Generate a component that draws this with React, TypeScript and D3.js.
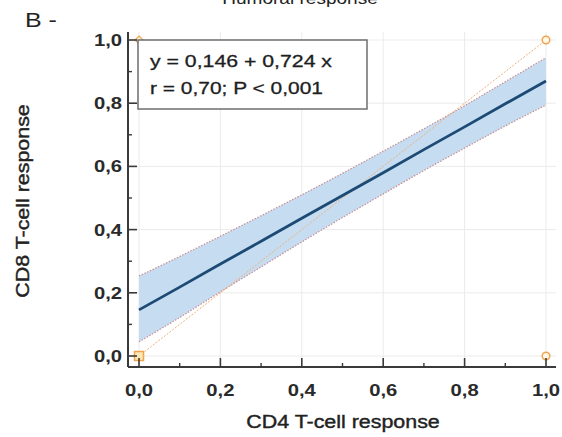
import React from "react";
import * as d3 from "d3";

const W = 562;
const H = 437;

// regression: y = 0.146 + 0.724 x
const bandX = [0, 0.1, 0.2, 0.3, 0.4, 0.5, 0.6, 0.7, 0.8, 0.9, 1.0];
const fitY = [0.146, 0.218, 0.291, 0.363, 0.436, 0.508, 0.58, 0.653, 0.725, 0.798, 0.87];
const upperY = [0.253, 0.315, 0.379, 0.444, 0.51, 0.578, 0.648, 0.719, 0.792, 0.868, 0.944];
const lowerY = [0.045, 0.122, 0.203, 0.282, 0.361, 0.438, 0.513, 0.587, 0.658, 0.728, 0.794];
const identityX = [0, 1];
const cornerPts = [
  { x: 0, y: 0, shape: "square" },
  { x: 0, y: 1, shape: "diamond" },
  { x: 1, y: 1, shape: "circle" },
  { x: 1, y: 0, shape: "circle" },
];
const majorTicks = [0, 0.2, 0.4, 0.6, 0.8, 1.0];
const minorTicks = [0.1, 0.3, 0.5, 0.7, 0.9];
const tickLabels = ["0,0", "0,2", "0,4", "0,6", "0,8", "1,0"];
const legendLines = ["y = 0,146 + 0,724 x", "r = 0,70; P < 0,001"];
const xTitle = "CD4 T-cell response";
const yTitle = "CD8 T-cell response";
const chartTitle = "Humoral response";
const panelLabel = "B -";

const SX = 1.19; // horizontal stretch of the original raster text

export default function App() {
  const x = d3.scaleLinear().domain([0, 1]).range([139, 546]);
  const y = d3.scaleLinear().domain([0, 1]).range([356, 40]);
  const axX = 128;
  const axY = 367;
  const top = 32;
  const right = 556;

  const pts = bandX.map((v, i) => ({ x: v, f: fitY[i], u: upperY[i], l: lowerY[i] }));
  const area = d3
    .area<any>()
    .x((d) => x(d.x))
    .y0((d) => y(d.l))
    .y1((d) => y(d.u))
    .curve(d3.curveMonotoneX);
  const lineU = d3.line<any>().x((d) => x(d.x)).y((d) => y(d.u)).curve(d3.curveMonotoneX);
  const lineL = d3.line<any>().x((d) => x(d.x)).y((d) => y(d.l)).curve(d3.curveMonotoneX);
  const lineF = d3.line<any>().x((d) => x(d.x)).y((d) => y(d.f));

  const font = "'Liberation Sans', Arial, sans-serif";

  const sText = (
    tx: number,
    ty: number,
    txt: string,
    size: number,
    anchor: string,
    weight: any = "normal",
    fill = "#222",
    rotate = 0,
    stroke = 0
  ) => (
    <g transform={`translate(${tx},${ty}) rotate(${rotate}) scale(${SX},1)`}>
      <text
        x={0}
        y={0}
        fontSize={size}
        fontFamily={font}
        fontWeight={weight}
        textAnchor={anchor as any}
        fill={fill}
        stroke={stroke ? fill : "none"}
        strokeWidth={stroke}
      >
        {txt}
      </text>
    </g>
  );

  return (
    <div style={{ position: "absolute", left: 0, top: 0 }}>
      <svg width={W} height={H} style={{ display: "block", background: "#fff" }}>
        <rect x={0} y={0} width={W} height={H} fill="#fff" />
        {/* title (cut off at the top, as in the original) */}
        {sText(300, 4, chartTitle, 16, "middle", "normal", "#222")}
        {sText(25, 27, panelLabel, 21, "start", "normal", "#222")}

        {/* grid */}
        {majorTicks.map((t) => (
          <line key={"gx" + t} x1={x(t)} x2={x(t)} y1={top} y2={axY} stroke="#ebebeb" strokeWidth={1} />
        ))}
        {majorTicks.map((t) => (
          <line key={"gy" + t} x1={axX} x2={right} y1={y(t)} y2={y(t)} stroke="#ebebeb" strokeWidth={1} />
        ))}

        {/* confidence band */}
        <path d={area(pts) || ""} fill="#c6ddf1" />
        <path d={lineU(pts) || ""} fill="none" stroke="#c98d95" strokeWidth={1.2} strokeDasharray="1.5,1.5" />
        <path d={lineL(pts) || ""} fill="none" stroke="#c98d95" strokeWidth={1.2} strokeDasharray="1.5,1.5" />

        {/* identity line */}
        <line
          x1={x(identityX[0])}
          y1={y(identityX[0])}
          x2={x(identityX[1])}
          y2={y(identityX[1])}
          stroke="#f0b07a"
          strokeWidth={1}
          strokeDasharray="2,1.5"
        />

        {/* fit line */}
        <path d={lineF(pts) || ""} fill="none" stroke="#1d4a74" strokeWidth={2.8} />

        {/* corner markers */}
        {cornerPts.map((p, i) => {
          const cx = x(p.x);
          const cy = y(p.y);
          if (p.shape === "square")
            return <rect key={i} x={cx - 4.5} y={cy - 4.5} width={9} height={9} fill="#fbe7b5" stroke="#eea54e" strokeWidth={1.5} />;
          if (p.shape === "diamond")
            return (
              <path
                key={i}
                d={`M${cx},${cy - 4}L${cx + 4},${cy}L${cx},${cy + 4}L${cx - 4},${cy}Z`}
                fill="#fff3df"
                stroke="#eea54e"
                strokeWidth={1.2}
              />
            );
          return <circle key={i} cx={cx} cy={cy} r={3.8} fill="#fff8e8" stroke="#eea54e" strokeWidth={1.5} />;
        })}

        {/* legend box */}
        <rect x={138} y={40} width={229} height={69} fill="#fff" stroke="#6e6e6e" strokeWidth={1.5} />
        <text x={150} y={67} fontSize={17} fontFamily={font} fill="#1e1e1e" stroke="#1e1e1e" strokeWidth={0.3} textLength={182} lengthAdjust="spacingAndGlyphs">
          {legendLines[0]}
        </text>
        <text x={150} y={94} fontSize={17} fontFamily={font} fill="#1e1e1e" stroke="#1e1e1e" strokeWidth={0.3} textLength={173} lengthAdjust="spacingAndGlyphs">
          {legendLines[1]}
        </text>

        {/* axes */}
        <line x1={axX} x2={axX} y1={top} y2={axY} stroke="#3a3a3a" strokeWidth={2} />
        <line x1={axX} x2={right} y1={axY} y2={axY} stroke="#3a3a3a" strokeWidth={2} />
        {majorTicks.map((t) => (
          <line key={"tx" + t} x1={x(t)} x2={x(t)} y1={axY} y2={axY - 9} stroke="#3a3a3a" strokeWidth={1.6} />
        ))}
        {minorTicks.map((t) => (
          <line key={"mx" + t} x1={x(t)} x2={x(t)} y1={axY} y2={axY - 4} stroke="#3a3a3a" strokeWidth={1.4} />
        ))}
        {majorTicks.map((t) => (
          <line key={"ty" + t} x1={axX} x2={axX + 9} y1={y(t)} y2={y(t)} stroke="#3a3a3a" strokeWidth={1.6} />
        ))}
        {minorTicks.map((t) => (
          <line key={"my" + t} x1={axX} x2={axX + 4} y1={y(t)} y2={y(t)} stroke="#3a3a3a" strokeWidth={1.4} />
        ))}

        {/* tick labels */}
        {majorTicks.map((t, i) => (
          <React.Fragment key={"lx" + t}>{sText(x(t), 396, tickLabels[i], 17, "middle", "bold", "#2a2a2a")}</React.Fragment>
        ))}
        {majorTicks.map((t, i) => (
          <React.Fragment key={"ly" + t}>{sText(122, y(t) + 6, tickLabels[i], 17, "end", "bold", "#2a2a2a")}</React.Fragment>
        ))}

        {/* axis titles */}
        {sText(343, 428, xTitle, 18, "middle", "normal", "#222", 0, 0.4)}
        {sText(29, 201, yTitle, 18, "middle", "normal", "#222", -90, 0.4)}
      </svg>
    </div>
  );
}
